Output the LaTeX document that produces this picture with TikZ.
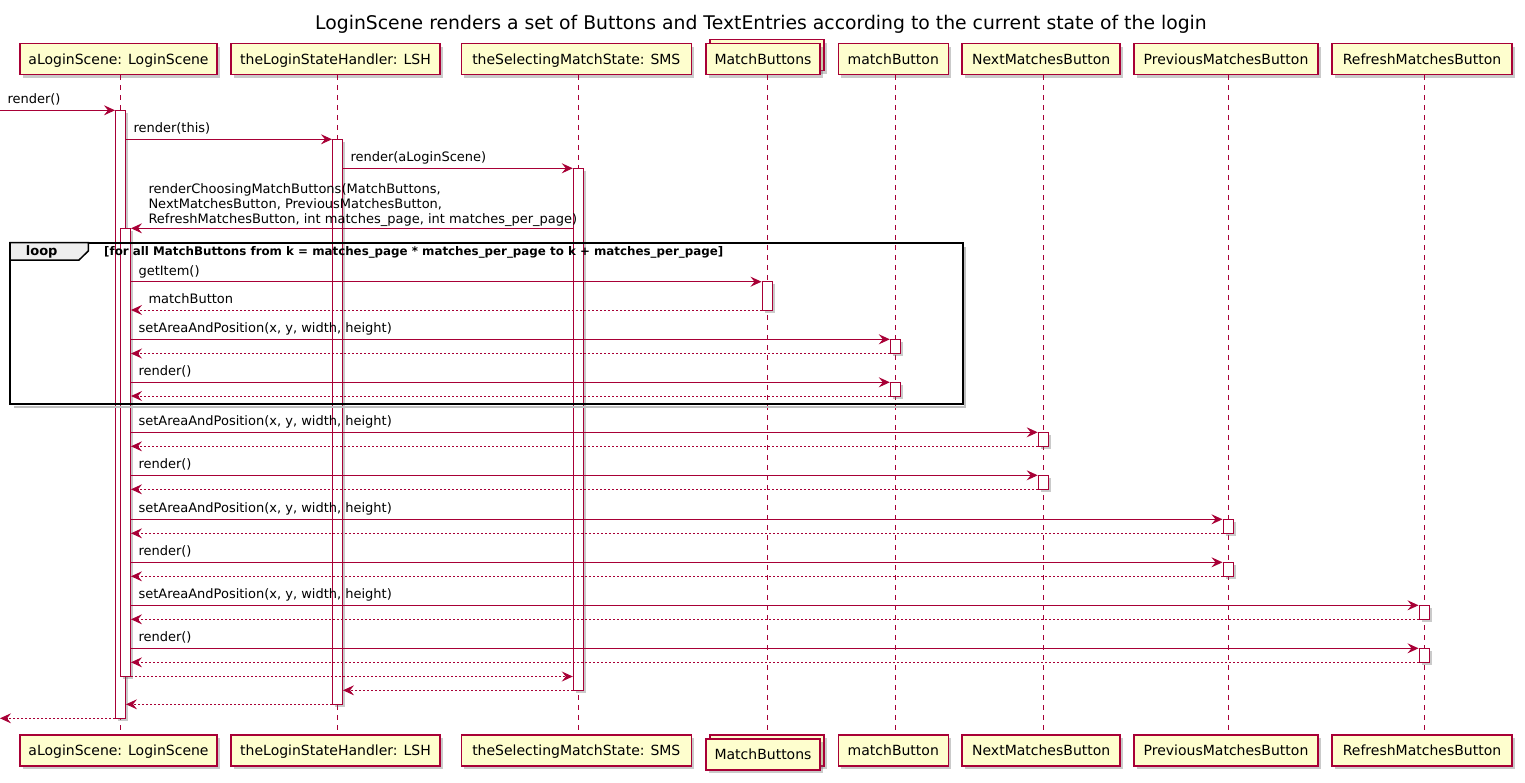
\documentclass[tikz,border=0pt]{standalone}
\usepackage{fontspec}
\setmainfont{DejaVu Sans}
\usepackage{xcolor}
\usepackage{tikz}
\usetikzlibrary{shapes,arrows.meta,positioning,shadows}
\definecolor{umlred}{HTML}{A80036}
\definecolor{umlyellow}{HTML}{FEFECE}
\definecolor{tabgray}{HTML}{EEEEEE}

\begin{document}
\begin{tikzpicture}[x=1pt, y=-1pt]
    % Define styles
    \tikzstyle{participant} = [rectangle, draw=umlred, line width=1.5pt, fill=umlyellow, minimum height=31pt, inner sep=0pt, text height=10.5pt, text depth=0.5pt, font=\fontsize{14}{16}\selectfont, drop shadow={shadow xshift=3pt, shadow yshift=-3pt, fill=black!60, opacity=0.35}]
    \tikzstyle{activation} = [rectangle, draw=umlred, line width=1pt, fill=white, minimum width=10pt, inner sep=0pt, drop shadow={shadow xshift=2.5pt, shadow yshift=-2.5pt, fill=black!60, opacity=0.35}]
    \tikzstyle{lifeline} = [draw=umlred, line width=1pt, dash pattern=on 5pt off 5pt]
    \tikzstyle{message} = [draw=umlred, line width=1pt, -{Stealth[length=11pt, width=10pt, inset=4pt]}]
    \tikzstyle{reply} = [message, dash pattern=on 2pt off 2pt]
    \tikzstyle{msglabel} = [font=\fontsize{13}{15}\selectfont, inner sep=0pt, anchor=base west, yshift=6.5pt]
    \tikzstyle{fwdlabel} = [msglabel, pos=0, xshift=7pt]
    \tikzstyle{backlabel} = [msglabel, pos=1, xshift=17pt]

    \useasboundingbox (0,0) rectangle (1525,782);

    % Title
    \node[font=\fontsize{18.8}{22}\selectfont, anchor=base, inner sep=0pt] (title) at (761,29) {LoginScene renders a set of Buttons and TextEntries according to the current state of the login};

    % Participants
    \node[participant, minimum width=197pt] (scene_top) at (118.5,59) {aLoginScene: LoginScene};
    \node[participant, minimum width=209pt] (handler_top) at (335.5,59) {theLoginStateHandler: LSH};
    \node[participant, minimum width=230pt] (state_top) at (576.3,59) {theSelectingMatchState: SMS};
    \node[participant, minimum width=114pt] (buttons_back_top) at (767,55) {};
    \node[participant, minimum width=114pt] (buttons_top) at (763,59) {MatchButtons};
    \node[participant, minimum width=110pt] (button_top) at (893.3,59) {matchButton};
    \node[participant, minimum width=158pt] (next_top) at (1041.2,59) {NextMatchesButton};
    \node[participant, minimum width=184pt] (previous_top) at (1226,59) {PreviousMatchesButton};
    \node[participant, minimum width=180pt] (refresh_top) at (1422,59) {RefreshMatchesButton};

    \node[participant, minimum width=197pt] (scene_bot) at (118.5,750.5) {aLoginScene: LoginScene};
    \node[participant, minimum width=209pt] (handler_bot) at (335.5,750.5) {theLoginStateHandler: LSH};
    \node[participant, minimum width=230pt] (state_bot) at (576.3,750.5) {theSelectingMatchState: SMS};
    \node[participant, minimum width=114pt] (buttons_back_bot) at (767,750.5) {};
    \node[participant, minimum width=114pt] (buttons_bot) at (763,754.5) {MatchButtons};
    \node[participant, minimum width=110pt] (button_bot) at (893.3,750.5) {matchButton};
    \node[participant, minimum width=158pt] (next_bot) at (1041.2,750.5) {NextMatchesButton};
    \node[participant, minimum width=184pt] (previous_bot) at (1226,750.5) {PreviousMatchesButton};
    \node[participant, minimum width=180pt] (refresh_bot) at (1422,750.5) {RefreshMatchesButton};

    % Lifelines
    \draw[lifeline] ([xshift=2pt]scene_top.south) -- ([xshift=2pt]scene_bot.north);
    \draw[lifeline] ([xshift=2pt]handler_top.south) -- ([xshift=2pt]handler_bot.north);
    \draw[lifeline] ([xshift=2pt]state_top.south) -- ([xshift=2pt]state_bot.north);
    \draw[lifeline] (buttons_back_top.south |- buttons_top.south) -- (buttons_back_bot.north);
    \draw[lifeline] ([xshift=2pt]button_top.south) -- ([xshift=2pt]button_bot.north);
    \draw[lifeline] ([xshift=2pt]next_top.south) -- ([xshift=2pt]next_bot.north);
    \draw[lifeline] ([xshift=2pt]previous_top.south) -- ([xshift=2pt]previous_bot.north);
    \draw[lifeline] ([xshift=2pt]refresh_top.south) -- ([xshift=2pt]refresh_bot.north);

    % Activations
    \node[activation, minimum height=608pt] (act_scene) at (120.5,414.3) {};
    \node[activation, minimum height=448.2pt] (act_scene_inner) at (125.5,452.4) {};
    \node[activation, minimum height=565pt] (act_handler) at (337.5,421.8) {};
    \node[activation, minimum height=522pt] (act_state) at (578.3,429.3) {};
    \node[activation, minimum height=28.3pt] (act_buttons) at (767,295.85) {};
    \node[activation, minimum height=14.2pt] (act_button_a) at (895.3,346.4) {};
    \node[activation, minimum height=13.7pt] (act_button_b) at (895.3,389.15) {};
    \node[activation, minimum height=14pt] (act_next_a) at (1043.2,439.3) {};
    \node[activation, minimum height=14pt] (act_next_b) at (1043.2,482.3) {};
    \node[activation, minimum height=14pt] (act_previous_a) at (1228,526.3) {};
    \node[activation, minimum height=14pt] (act_previous_b) at (1228,569.3) {};
    \node[activation, minimum height=14pt] (act_refresh_a) at (1424,612.3) {};
    \node[activation, minimum height=14pt] (act_refresh_b) at (1424,655.3) {};

    % Message rows
    \coordinate (edge_in) at (0,0);
    \foreach \row/\y in {r1/110.3, r2/139.3, r3/168.3, r4/228.3, r5/281.7, r6/310, r7/339.3, r8/353.5, r9/382.3, r10/396, r11/432.3, r12/446.3, r13/475.3, r14/489.3, r15/519.3, r16/533.3, r17/562.3, r18/576.3, r19/605.3, r20/619.3, r21/648.3, r22/662.3, r23/676.5, r24/690.3, r25/704.3, r26/718.3}
        \coordinate (\row) at (0,\y);

    % Loop frame
    \draw[black!25, line width=2pt] (965,247) -- (965,407.3) -- (14,407.3);
    \draw[black, line width=2pt] (10,242.7) rectangle (962.5,404.3);
    \draw[black, line width=1.5pt, fill=tabgray] (10,242.7) -- (88.3,242.7) -- (88.3,251) -- (79,260) -- (10,260) -- cycle;
    \node[font=\bfseries\fontsize{13}{15}\selectfont, anchor=base west, inner sep=0pt] (loop_label) at (25.7,255.5) {loop};
    \node[font=\bfseries\fontsize{11.85}{13}\selectfont, anchor=base west, inner sep=0pt] (loop_guard) at (104,255) {[for all MatchButtons from k = matches\_page * matches\_per\_page to k + matches\_per\_page]};

    % Connections
    \draw[message] (edge_in |- r1) -- node[fwdlabel] {render()} (act_scene.west |- r1);
    \draw[message] (act_scene.east |- r2) -- node[fwdlabel] {render(this)} (act_handler.west |- r2);
    \draw[message] (act_handler.east |- r3) -- node[fwdlabel] {render(aLoginScene)} (act_state.west |- r3);
    \draw[message] (act_state.west |- r4) -- node[backlabel, anchor=south west, yshift=-5pt, align=left] {renderChoosingMatchButtons(MatchButtons,\\NextMatchesButton, PreviousMatchesButton,\\RefreshMatchesButton, int matches\_page, int matches\_per\_page)} (act_scene_inner.east |- r4);
    \draw[message] (act_scene_inner.east |- r5) -- node[fwdlabel] {getItem()} (act_buttons.west |- r5);
    \draw[reply] (act_buttons.west |- r6) -- node[backlabel] {matchButton} (act_scene_inner.east |- r6);
    \draw[message] (act_scene_inner.east |- r7) -- node[fwdlabel] {setAreaAndPosition(x, y, width, height)} (act_button_a.west |- r7);
    \draw[reply] (act_button_a.west |- r8) -- (act_scene_inner.east |- r8);
    \draw[message] (act_scene_inner.east |- r9) -- node[fwdlabel] {render()} (act_button_b.west |- r9);
    \draw[reply] (act_button_b.west |- r10) -- (act_scene_inner.east |- r10);
    \draw[message] (act_scene_inner.east |- r11) -- node[fwdlabel] {setAreaAndPosition(x, y, width, height)} (act_next_a.west |- r11);
    \draw[reply] (act_next_a.west |- r12) -- (act_scene_inner.east |- r12);
    \draw[message] (act_scene_inner.east |- r13) -- node[fwdlabel] {render()} (act_next_b.west |- r13);
    \draw[reply] (act_next_b.west |- r14) -- (act_scene_inner.east |- r14);
    \draw[message] (act_scene_inner.east |- r15) -- node[fwdlabel] {setAreaAndPosition(x, y, width, height)} (act_previous_a.west |- r15);
    \draw[reply] (act_previous_a.west |- r16) -- (act_scene_inner.east |- r16);
    \draw[message] (act_scene_inner.east |- r17) -- node[fwdlabel] {render()} (act_previous_b.west |- r17);
    \draw[reply] (act_previous_b.west |- r18) -- (act_scene_inner.east |- r18);
    \draw[message] (act_scene_inner.east |- r19) -- node[fwdlabel] {setAreaAndPosition(x, y, width, height)} (act_refresh_a.west |- r19);
    \draw[reply] (act_refresh_a.west |- r20) -- (act_scene_inner.east |- r20);
    \draw[message] (act_scene_inner.east |- r21) -- node[fwdlabel] {render()} (act_refresh_b.west |- r21);
    \draw[reply] (act_refresh_b.west |- r22) -- (act_scene_inner.east |- r22);
    \draw[reply] (act_scene_inner.east |- r23) -- (act_state.west |- r23);
    \draw[reply] (act_state.west |- r24) -- (act_handler.east |- r24);
    \draw[reply] (act_handler.west |- r25) -- (act_scene.east |- r25);
    \draw[reply] (act_scene.west |- r26) -- (edge_in |- r26);
\end{tikzpicture}
\end{document}
